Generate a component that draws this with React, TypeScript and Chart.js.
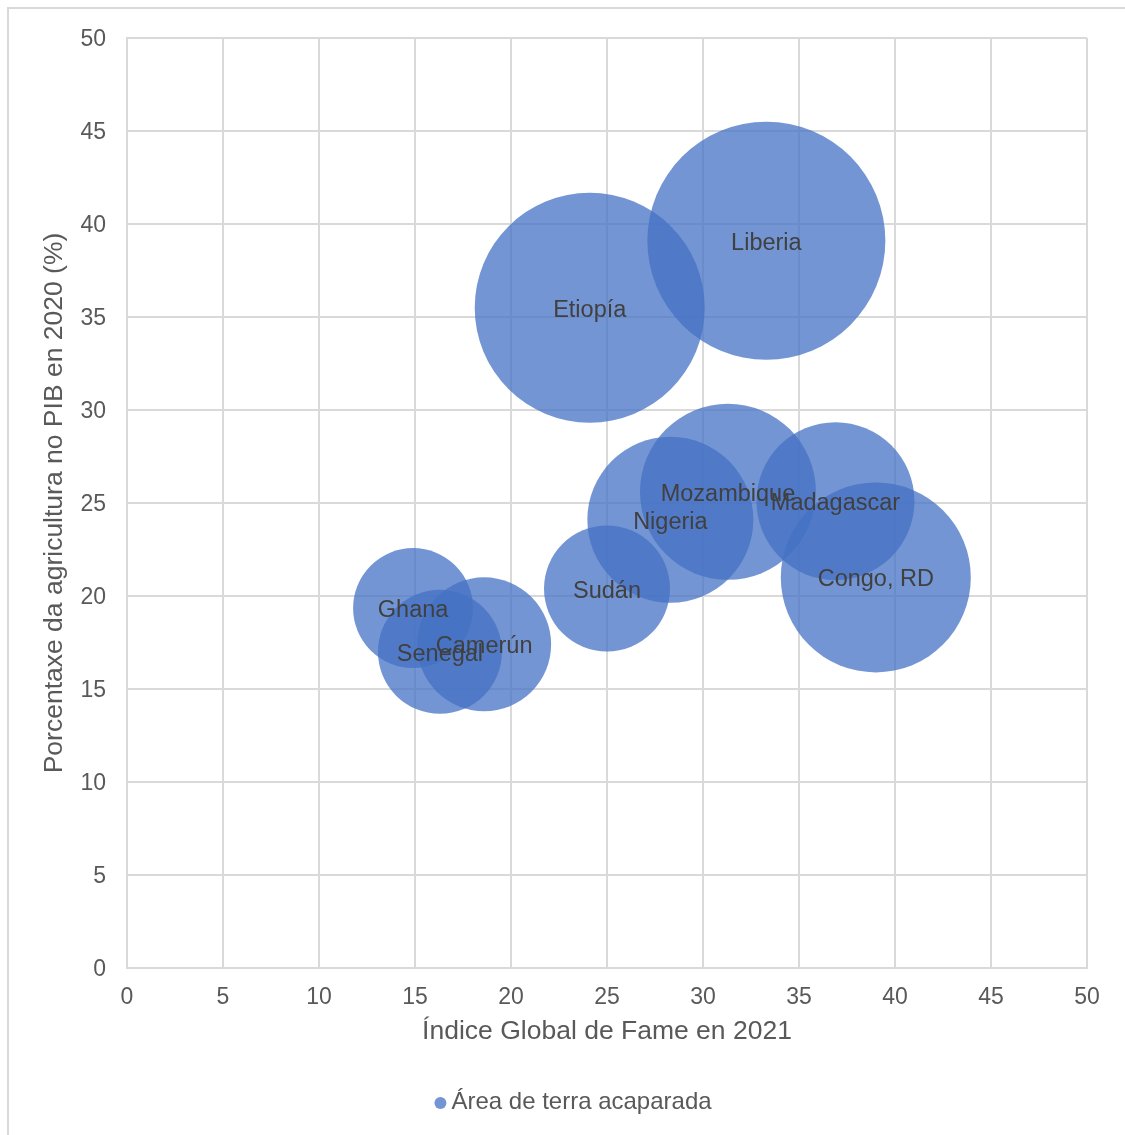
import React, { useEffect, useRef } from "react";
import { Chart, registerables } from "chart.js";

Chart.register(...registerables);

// ---- data ----
const countries = ["Ghana", "Senegal", "Camerún", "Sudán", "Nigeria", "Mozambique", "Madagascar", "Congo, RD", "Etiopía", "Liberia"];
const hungerIndex2021 = [14.9, 16.3, 18.6, 25.0, 28.3, 31.3, 36.9, 39.0, 24.1, 33.3];
const agricultureGdpShare2020 = [19.35, 17.0, 17.4, 20.4, 24.1, 25.6, 25.1, 21.0, 35.5, 39.1];
// bubble size (Área de terra acaparada), as drawn bubble radius
const landGrabBubble = [60, 62, 67, 63, 83, 88, 79, 95, 115, 119];

const seriesName = "Área de terra acaparada";
const xTitle = "Índice Global de Fame en 2021";
const yTitle = "Porcentaxe da agricultura no PIB en 2020 (%)";
const axisMin = 0;
const axisMax = 50;
const axisStep = 5;

const FONT = "'Liberation Sans', Arial, sans-serif";
const BUBBLE = "rgba(68,114,196,0.75)";
const GRID = "#d9d9d9";
const TICK = "#595959";
const LABEL = "#404040";

const framePlugin = {
  id: "frame",
  beforeDraw(chart: any) {
    const ctx = chart.ctx;
    ctx.save();
    ctx.fillStyle = "#ffffff";
    ctx.fillRect(0, 0, chart.width, chart.height);
    ctx.fillStyle = GRID;
    ctx.fillRect(7, 7, 2, chart.height - 7);
    ctx.fillRect(7, 7, chart.width - 7, 2);
    ctx.restore();
  },
};

const labelPlugin = {
  id: "bubbleLabels",
  afterDatasetsDraw(chart: any) {
    const ctx = chart.ctx;
    const meta = chart.getDatasetMeta(0);
    ctx.save();
    ctx.font = `23.5px ${FONT}`;
    ctx.fillStyle = LABEL;
    ctx.textAlign = "center";
    ctx.textBaseline = "middle";
    meta.data.forEach((el: any, i: number) => {
      ctx.fillText(countries[i], el.x, el.y + 2.5);
    });
    ctx.restore();
  },
};

const legendPlugin = {
  id: "customLegend",
  afterDraw(chart: any) {
    const ctx = chart.ctx;
    ctx.save();
    ctx.font = `24px ${FONT}`;
    const tw = ctx.measureText(seriesName).width;
    const dotR = 6;
    const gap = 5;
    const total = dotR * 2 + gap + tw;
    const cx = 573;
    const y = 1102;
    const start = cx - total / 2;
    ctx.fillStyle = BUBBLE;
    ctx.beginPath();
    ctx.arc(start + dotR, y + 1, dotR, 0, Math.PI * 2);
    ctx.fill();
    ctx.fillStyle = TICK;
    ctx.textAlign = "left";
    ctx.textBaseline = "middle";
    ctx.fillText(seriesName, start + dotR * 2 + gap, y);
    ctx.restore();
  },
};

export default function App() {
  const ref = useRef<HTMLCanvasElement | null>(null);

  useEffect(() => {
    if (!ref.current) return;
    const data = countries.map((_, i) => ({
      x: hungerIndex2021[i],
      y: agricultureGdpShare2020[i],
      r: landGrabBubble[i],
    }));
    const chart = new Chart(ref.current, {
      type: "bubble",
      data: {
        datasets: [
          {
            label: seriesName,
            data,
            backgroundColor: BUBBLE,
            borderWidth: 0,
            hoverBorderWidth: 0,
          },
        ],
      },
      options: {
        animation: false,
        responsive: false,
        events: [],
        layout: { autoPadding: false, padding: { left: 0, top: 38, right: 38, bottom: 87 } },
        plugins: {
          legend: { display: false },
          tooltip: { enabled: false },
        },
        scales: {
          x: {
            type: "linear",
            min: axisMin,
            max: axisMax,
            ticks: {
              stepSize: axisStep,
              color: TICK,
              font: { family: FONT, size: 23 },
              padding: 16,
              maxRotation: 0,
            },
            grid: { color: GRID, lineWidth: 2, drawTicks: false },
            border: { display: true, color: GRID, width: 2 },
            title: {
              display: true,
              text: xTitle,
              color: TICK,
              font: { family: FONT, size: 26.5 },
              padding: { top: 0, bottom: 0 },
            },
            afterFit(scale: any) {
              scale.height = 80;
            },
          },
          y: {
            type: "linear",
            min: axisMin,
            max: axisMax,
            ticks: {
              stepSize: axisStep,
              color: TICK,
              font: { family: FONT, size: 23 },
              padding: 21,
              labelOffset: 2,
            },
            grid: { color: GRID, lineWidth: 2, drawTicks: false },
            border: { display: true, color: GRID, width: 2 },
            title: {
              display: true,
              text: yTitle,
              color: TICK,
              font: { family: FONT, size: 26.5 },
              padding: { top: 39, bottom: 0 },
            },
            afterFit(scale: any) {
              scale.width = 127;
            },
          },
        },
      },
      plugins: [framePlugin, labelPlugin, legendPlugin],
    });
    return () => chart.destroy();
  }, []);

  return (
    <div style={{ position: "fixed", left: 0, top: 0, width: 1125, height: 1135 }}>
      <canvas ref={ref} width={1125} height={1135} style={{ width: 1125, height: 1135, display: "block" }} />
    </div>
  );
}
